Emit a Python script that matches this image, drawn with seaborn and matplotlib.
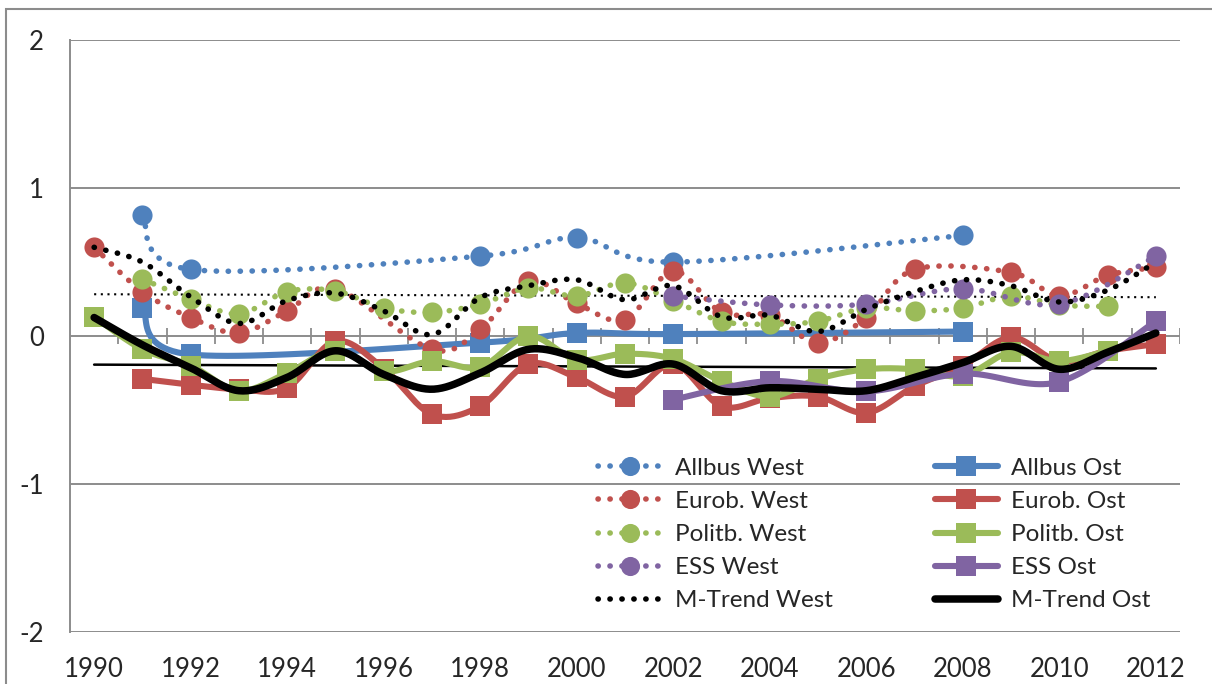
import numpy as np
import matplotlib
matplotlib.use('Agg')
import matplotlib.pyplot as plt
from matplotlib.lines import Line2D
from matplotlib.patches import Rectangle
import seaborn as sns

nan = np.nan
years = np.arange(1990, 2013)

# values, one per year 1990..2012 (nan = no survey)
allbus_west = [nan, 0.82, 0.45, nan, nan, nan, nan, nan, 0.54, nan, 0.665, nan,
               0.50, nan, nan, nan, nan, nan, 0.68, nan, nan, nan, nan]
allbus_ost = [nan, 0.19, -0.125, nan, nan, nan, nan, nan, -0.045, nan, 0.02, nan,
              0.013, nan, nan, nan, nan, nan, 0.03, nan, nan, nan, nan]
eurob_west = [0.60, 0.30, 0.125, 0.02, 0.17, 0.32, nan, -0.09, 0.045, 0.37, 0.22, 0.11,
              0.44, 0.16, 0.14, -0.045, 0.125, 0.45, nan, 0.43, 0.27, 0.41, 0.465]
eurob_ost = [nan, -0.29, -0.33, -0.36, -0.35, -0.035, -0.22, -0.53, -0.475, -0.19, -0.28, -0.41,
             -0.19, -0.475, -0.42, -0.41, -0.52, -0.34, -0.20, -0.01, -0.17, -0.10, -0.055]
politb_west = [nan, 0.385, 0.25, 0.15, 0.30, 0.305, 0.19, 0.16, 0.215, 0.325, 0.27, 0.36,
               0.24, 0.10, 0.08, 0.10, 0.19, 0.17, 0.19, 0.27, 0.21, 0.20, nan]
politb_ost = [0.13, -0.09, -0.20, -0.37, -0.25, -0.10, -0.24, -0.17, -0.21, 0.0, -0.16, -0.12,
              -0.155, -0.305, -0.41, -0.29, -0.225, -0.225, -0.27, -0.11, -0.17, -0.10, nan]
ess_west = [nan] * 12 + [0.27, nan, 0.21, nan, 0.215, nan, 0.32, nan, 0.215, nan, 0.54]
ess_ost = [nan] * 12 + [-0.43, nan, -0.305, nan, -0.375, nan, -0.255, nan, -0.31, nan, 0.10]
mtrend_west = [0.60, 0.50, 0.265, 0.085, 0.24, 0.29, 0.17, 0.01, 0.26, 0.34, 0.38, 0.245,
               0.34, 0.13, 0.14, 0.03, 0.18, 0.30, 0.38, 0.34, 0.23, 0.31, 0.50]
mtrend_ost = [0.125, -0.06, -0.215, -0.37, -0.28, -0.10, -0.26, -0.36, -0.25, -0.09, -0.145, -0.26,
              -0.19, -0.37, -0.35, -0.36, -0.37, -0.28, -0.18, -0.07, -0.225, -0.11, 0.02]

BLUE, RED, GREEN, PURPLE = '#4F81BD', '#C0504D', '#9BBB59', '#8064A2'
GREY = '#8C8C8C'

# same order as excel draws them (row-wise legend)
series = [
    ('Allbus West', allbus_west, BLUE, 'west'),
    ('Allbus Ost', allbus_ost, BLUE, 'ost'),
    ('Eurob. West', eurob_west, RED, 'west'),
    ('Eurob. Ost', eurob_ost, RED, 'ost'),
    ('Politb. West', politb_west, GREEN, 'west'),
    ('Politb. Ost', politb_ost, GREEN, 'ost'),
    ('ESS West', ess_west, PURPLE, 'west'),
    ('ESS Ost', ess_ost, PURPLE, 'ost'),
    ('M-Trend West', mtrend_west, 'black', 'mwest'),
    ('M-Trend Ost', mtrend_ost, 'black', 'most'),
]

DOTS = (0, (0.05, 2.1))
STYLE = {
    'west': dict(lw=4.0, ls=DOTS, marker='o', ms=14.5),
    'ost': dict(lw=4.4, ls='-', marker='s', ms=14.5),
    'mwest': dict(lw=4.0, ls=DOTS, marker=None, ms=0),
    'most': dict(lw=5.4, ls='-', marker=None, ms=0),
}


def smooth(x, y, n=25):
    # excel "smoothed line": bezier segments with catmull-rom control points
    x = np.asarray(x, float)
    y = np.asarray(y, float)
    ok = ~np.isnan(y)
    pts = np.column_stack([x[ok], y[ok]])
    t = np.linspace(0, 1, n)[1:, None]
    out = [pts[:1]]
    for i in range(len(pts) - 1):
        p0 = pts[max(i - 1, 0)]
        p1 = pts[i]
        p2 = pts[i + 1]
        p3 = pts[min(i + 2, len(pts) - 1)]
        c1 = p1 + (p2 - p0) / 6
        c2 = p2 - (p3 - p1) / 6
        out.append((1 - t) ** 3 * p1 + 3 * (1 - t) ** 2 * t * c1
                   + 3 * (1 - t) * t ** 2 * c2 + t ** 3 * p2)
    curve = np.vstack(out)
    return curve[:, 0], curve[:, 1]


sns.set_style('white')
plt.rcParams['font.family'] = ['Lato', 'DejaVu Sans']
plt.rcParams['axes.unicode_minus'] = False

fig = plt.figure(figsize=(12.12, 6.84), dpi=100)
ax = fig.add_axes([70 / 1212, 1 - 631.7 / 684, 1110 / 1212, 591.4 / 684])

handles = []
for i, (label, vals, color, kind) in enumerate(series):
    st = STYLE[kind]
    z = 4 + i
    xs, ys = smooth(years, vals)
    sns.lineplot(x=xs, y=ys, sort=False, estimator=None, color=color, linewidth=st['lw'],
                 linestyle=st['ls'], dash_capstyle='round', solid_capstyle='round',
                 zorder=z, ax=ax, legend=False)
    if st['marker']:
        v = np.asarray(vals, float)
        ok = ~np.isnan(v)
        sns.scatterplot(x=years[ok], y=v[ok], marker=st['marker'], s=st['ms'] ** 2,
                        color=color, linewidth=0, zorder=z + 0.5, ax=ax, legend=False)
    handles.append(Line2D([], [], color=color, lw=st['lw'], ls=st['ls'],
                          dash_capstyle='round', solid_capstyle='round',
                          marker=st['marker'], ms=st['ms'] * 0.95, mew=0))

# linear trend lines of the two M-Trend series
for vals, ls, lw in [(mtrend_west, (0, (1, 2.2)), 1.5), (mtrend_ost, '-', 1.8)]:
    k, d = np.polyfit(years, vals, 1)
    sns.lineplot(x=years, y=k * years + d, color='black', linewidth=lw, linestyle=ls,
                 zorder=3, ax=ax, legend=False)

# category tick marks sitting on the zero line
ax.vlines(years + 0.5, -0.054, 0.054, color=GREY, lw=1.3, zorder=2)

ax.set_xlim(1989.5, 2012.5)
ax.set_ylim(-2, 2)
ax.set_yticks([-2, -1, 0, 1, 2])
ax.set_xticks(years[::2])
ax.set_xticklabels([str(y) for y in years[::2]])
ax.yaxis.grid(True, color=GREY, lw=1.4)
ax.xaxis.grid(False)
ax.set_axisbelow(True)
for s in ['top', 'right', 'bottom']:
    ax.spines[s].set_visible(False)
ax.spines['left'].set_color(GREY)
ax.spines['left'].set_linewidth(1.4)
ax.tick_params(axis='y', length=5.8, width=1.3, color=GREY, pad=13, labelsize=18.5)
ax.tick_params(axis='x', length=0, pad=18, labelsize=18.5)
ax.set_xlabel('')
ax.set_ylabel('')

order = handles[0::2] + handles[1::2]
labels = [s[0] for s in series]
labels = labels[0::2] + labels[1::2]
ax.legend(order, labels, loc='upper left', bbox_to_anchor=(528 / 1110, 174 / 591.4),
          ncol=2, frameon=False, fontsize=17.5, handlelength=2.6, handletextpad=0.55,
          columnspacing=4.2, labelspacing=0.5, borderpad=0, borderaxespad=0)

# chart area border (cut off on the right and bottom in the source)
fig.add_artist(Rectangle((6 / 1212, -1), 3, 1 + (1 - 9 / 684), transform=fig.transFigure,
                         fill=False, ec=GREY, lw=1.5))

fig.savefig('out.png', dpi=100)
